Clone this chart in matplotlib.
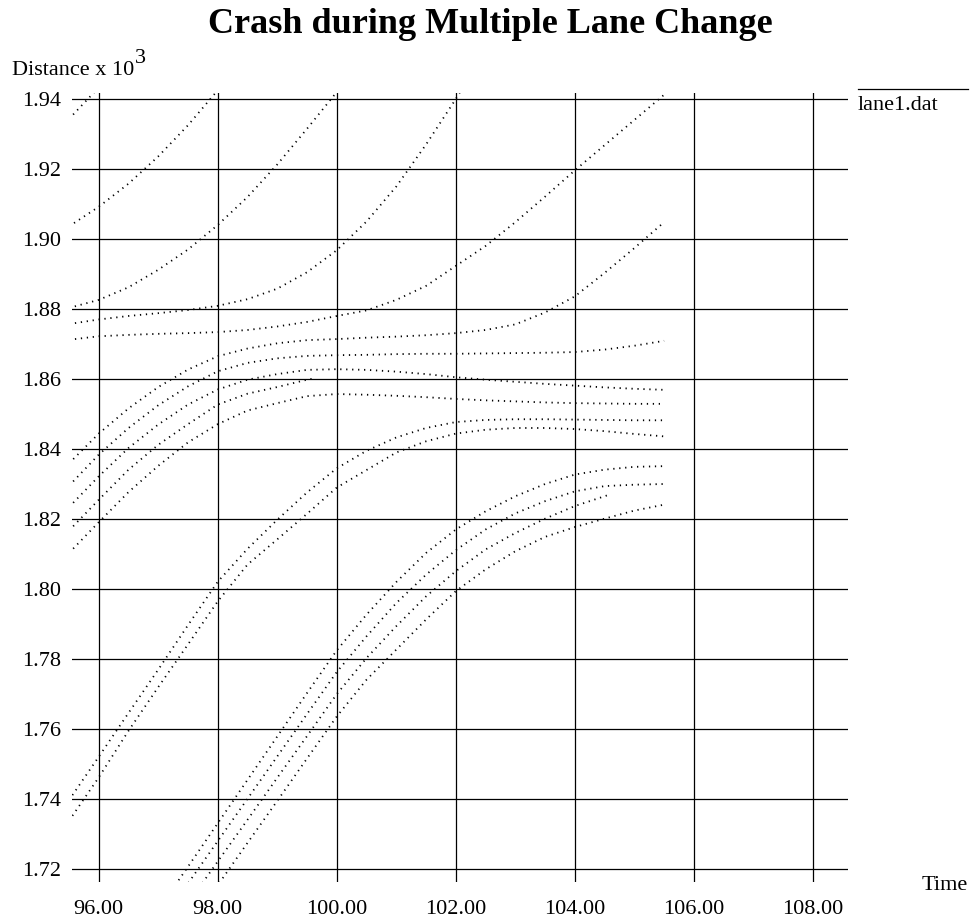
import matplotlib
matplotlib.use("Agg")
import matplotlib.pyplot as plt
from matplotlib.lines import Line2D

plt.rcParams["font.family"] = ["Liberation Serif", "DejaVu Serif"]

# time samples (s)
t_full = [95.5, 96.0, 96.5, 97.0, 97.5, 98.0, 98.5, 99.0, 99.5, 100.0, 100.5,
          101.0, 101.5, 102.0, 102.5, 103.0, 103.5, 104.0, 104.5, 105.0, 105.5]
t_late = t_full[3:]
t_crash = t_full[:9] + [99.6]
t_l3 = t_late[:16] + [104.6]

# vehicle positions (m)
car_a = [1934.3, 1943.3, 1952.5]
car_b = [1903.6, 1909.2, 1915.8, 1923.6, 1932.5, 1942.5, 1953.0]
car_c = [1880.3, 1882.6, 1886.2, 1891.2, 1897.0, 1904.0, 1912.0, 1921.3, 1931.5,
         1942.0, 1953.0]
car_d = [1875.7, 1877.0, 1878.0, 1878.8, 1879.7, 1880.9, 1882.8, 1885.8, 1890.5,
         1896.8, 1905.0, 1915.0, 1927.0, 1940.0, 1954.0]
car_e = [1871.2, 1872.2, 1872.6, 1872.9, 1873.1, 1873.4, 1874.0, 1875.0, 1876.3,
         1878.0, 1879.6, 1882.6, 1886.6, 1892.3, 1898.0, 1904.8, 1912.1, 1919.6,
         1926.8, 1934.0, 1941.2]
car_f = [1835.9, 1844.4, 1851.6, 1857.7, 1862.7, 1866.5, 1868.7, 1870.2, 1871.1,
         1871.4, 1871.8, 1872.1, 1872.5, 1873.1, 1874.0, 1875.6, 1879.0, 1883.6,
         1890.3, 1897.4, 1904.8]
car_g = [1829.5, 1838.4, 1846.0, 1852.5, 1857.9, 1862.2, 1864.6, 1865.9, 1866.6,
         1866.8, 1866.9, 1867.1, 1867.2, 1867.2, 1867.3, 1867.4, 1867.5, 1867.7,
         1868.4, 1869.5, 1870.9]
car_h = [1823.4, 1832.2, 1840.3, 1847.0, 1852.7, 1857.0, 1859.8, 1861.4, 1862.6,
         1862.8, 1862.6, 1862.1, 1861.4, 1860.5, 1859.8, 1859.2, 1858.6, 1858.1,
         1857.6, 1857.2, 1856.9]
car_crash = [1816.7, 1825.5, 1834.1, 1841.2, 1847.1, 1852.7, 1855.8, 1857.7,
             1859.8, 1860.1]
car_i = [1810.3, 1819.1, 1827.7, 1835.2, 1841.9, 1847.1, 1851.0, 1853.1, 1855.1,
         1855.7, 1855.5, 1855.2, 1854.8, 1854.3, 1853.9, 1853.6, 1853.3, 1853.1,
         1853.0, 1852.9, 1852.9]
car_j = [1739.7, 1752.1, 1764.6, 1777.0, 1789.7, 1802.1, 1811.5, 1819.8, 1827.6,
         1834.5, 1839.5, 1843.3, 1846.0, 1847.7, 1848.3, 1848.5, 1848.5, 1848.4,
         1848.3, 1848.2, 1848.2]
car_k = [1733.8, 1746.2, 1759.5, 1772.0, 1784.2, 1796.5, 1807.0, 1814.2, 1821.5,
         1829.0, 1834.0, 1839.0, 1842.2, 1844.4, 1845.5, 1846.0, 1846.0, 1845.7,
         1845.1, 1844.3, 1843.6]
car_l1 = [1708.4, 1720.7, 1733.1, 1745.5, 1757.9, 1770.3, 1782.5, 1792.7, 1802.0,
          1810.3, 1817.0, 1822.2, 1826.5, 1830.0, 1832.7, 1834.1, 1834.9, 1835.1]
car_l2 = [1703.8, 1715.9, 1728.0, 1740.1, 1752.2, 1764.3, 1776.3, 1786.5, 1796.0,
          1804.1, 1811.1, 1817.0, 1821.6, 1825.1, 1827.9, 1829.4, 1829.8, 1830.0]
car_l3 = [1698.2, 1710.2, 1722.2, 1734.1, 1746.1, 1758.0, 1770.0, 1780.3, 1789.4,
          1797.9, 1805.1, 1811.3, 1816.0, 1820.1, 1823.7, 1826.5, 1827.1]
car_l4 = [1691.3, 1703.4, 1715.4, 1727.5, 1739.5, 1751.6, 1763.6, 1774.1, 1782.7,
          1791.3, 1799.4, 1805.6, 1810.8, 1814.9, 1817.7, 1820.1, 1822.4, 1824.1]

tracks = [
    (t_full[:3], car_a), (t_full[:7], car_b), (t_full[:11], car_c),
    (t_full[:15], car_d), (t_full, car_e), (t_full, car_f), (t_full, car_g),
    (t_full, car_h), (t_crash, car_crash), (t_full, car_i), (t_full, car_j),
    (t_full, car_k), (t_late, car_l1), (t_late, car_l2), (t_l3, car_l3),
    (t_late, car_l4),
]

x_ticks = [96, 98, 100, 102, 104, 106, 108]
y_ticks = [1.72, 1.74, 1.76, 1.78, 1.80, 1.82, 1.84, 1.86, 1.88, 1.90, 1.92, 1.94]

fig = plt.figure(figsize=(9.77, 9.21), dpi=100)
ax = fig.add_axes([72 / 977, 39 / 921, 776 / 977, 789 / 921])

for t, d in tracks:
    ax.plot(t, [v / 1000 for v in d], color="black", lw=1.3,
            linestyle=(0, (0.7, 2.6)))

ax.set_xlim(95.55, 108.59)
ax.set_ylim(1.7163, 1.9417)
ax.set_xticks(x_ticks)
ax.set_yticks(y_ticks)
ax.set_xticklabels(["%.2f" % v for v in x_ticks])
ax.set_yticklabels(["%.2f" % v for v in y_ticks])
ax.tick_params(length=0, labelsize=16)
ax.tick_params(axis="y", pad=8)
ax.tick_params(axis="x", pad=13)
ax.grid(True, color="black", lw=0.9)
ax.set_axisbelow(True)
for s in ax.spines.values():
    s.set_visible(False)

fig.text(490 / 977, 1 - 33 / 921, "Crash during Multiple Lane Change",
         ha="center", va="baseline", fontsize=26, fontweight="bold")
fig.text(12 / 977, 1 - 75 / 921, "Distance x 10", ha="left", va="baseline",
         fontsize=16)
fig.text(135 / 977, 1 - 63 / 921, "3", ha="left", va="baseline", fontsize=16)
fig.text(922 / 977, 1 - 890 / 921, "Time", ha="left", va="baseline",
         fontsize=16)

# legend in the old xgraph style
fig.add_artist(Line2D([858 / 977, 968 / 977], [1 - 89.5 / 921, 1 - 89.5 / 921],
                      color="black", lw=0.9))
fig.text(858 / 977, 1 - 110 / 921, "lane1.dat", ha="left", va="baseline",
         fontsize=16)

fig.savefig("out.png", dpi=100)
